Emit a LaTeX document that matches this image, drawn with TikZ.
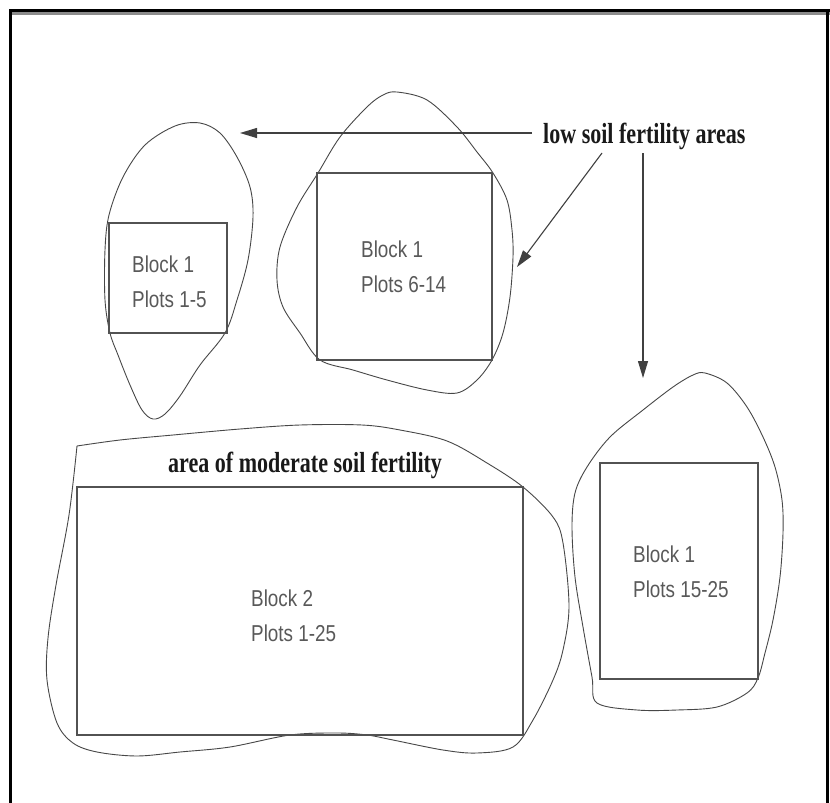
\documentclass[tikz,border=0pt]{standalone}
\usepackage{fontspec}
\setmainfont{Liberation Serif}
\newfontfamily\labfont[FakeStretch=0.76]{Liberation Serif}
\newfontfamily\blkfont[FakeStretch=0.82]{Liberation Sans}
\usetikzlibrary{arrows.meta}
\begin{document}
\begin{tikzpicture}[x=1pt,y=-1pt,
  blob/.style={draw=black!72,line width=0.9pt},
  plotbox/.style={draw=black!68,line width=1.4pt},
  lbl/.style={font=\labfont\bfseries\fontsize{29}{32}\selectfont, inner sep=0pt, text=black!90},
  blk/.style={font=\blkfont\fontsize{23}{35}\selectfont, inner sep=0pt, text=black!65, align=left, anchor=north west},
  arr/.style={draw=black!75,line width=1.1pt,-{Triangle[length=17pt,width=10pt]}}]
\fill[white] (0,0) rectangle (830,803);
\useasboundingbox (0,0) rectangle (830,803);
% frame
\fill[black] (9,9) rectangle (830,12);
\fill[black!45] (12,12) rectangle (830,15);
\fill[black] (9,9) rectangle (12,803);
\fill[black] (826,9) rectangle (829,803);
% left blob
\draw[blob] plot[smooth cycle, tension=0.55] coordinates {(200,123) (220,133) (237,157) (250,187) (253,217) (248,260) (237,300) (225,333) (200,365) (180,396) (165,414) (153,419) (142,410) (130,385) (118,355) (110,333) (105,300) (105,250) (109,215) (123,177) (145,145) (175,126)};
\draw[plotbox] (109,223) rectangle (227,333);
% middle blob
\draw[blob] plot[smooth cycle, tension=0.55] coordinates {(397,92) (427,100) (457,127) (477,152) (493,173) (507,200) (512,230) (513,257) (510,297) (503,333) (492,360) (477,380) (457,393) (427,390) (387,380) (353,370) (320,360) (300,333) (283,307) (277,280) (280,247) (297,207) (318,173) (340,137) (367,107) (383,95)};
\draw[plotbox] (317,173) rectangle (492,360);
% right blob
\draw[blob] plot[smooth cycle, tension=0.55] coordinates {(705,373) (727,383) (747,407) (763,437) (775,467) (782,500) (783,533) (780,577) (773,620) (765,653) (758,678) (747,693) (717,707) (677,710) (637,710) (597,703) (592,677) (583,627) (575,577) (572,527) (575,493) (587,467) (610,437) (643,410) (673,387) (693,375)};
\draw[plotbox] (600,463) rectangle (758,679);
% big blob
\draw[blob] plot[smooth, tension=0.55] coordinates {(77,446) (120,440) (173,435) (240,429) (300,425) (362,425) (400,430) (447,441) (487,463) (523,487) (553,517) (563,543) (569,606) (563,650) (553,680) (533,720) (513,747) (477,753) (443,750) (393,740) (367,735) (337,733) (290,735) (230,747) (180,752) (137,756) (97,752) (73,743) (57,723) (47,680) (48,638) (56,585) (69,515) (77,446)};
\draw[plotbox] (77,487) rectangle (523,735);
% labels
\node[lbl, anchor=base west] (low) at (543,143) {low soil fertility areas};
\node[lbl, anchor=base west] (mod) at (168,472) {area of moderate soil fertility};
\node[blk] (ta) at (132,255.5) {Block 1\\Plots 1-5};
\node[blk] (tb) at (361,240.5) {Block 1\\Plots 6-14};
\node[blk] (tc) at (633,545.5) {Block 1\\Plots 15-25};
\node[blk] (td) at (251,589.5) {Block 2\\Plots 1-25};
% arrows
\coordinate (h0) at (532,133); \coordinate (h1) at (240,133);
\coordinate (d0) at (602,153); \coordinate (d1) at (517,267);
\coordinate (v0) at (643,153); \coordinate (v1) at (643,378);
\draw[arr] (h0) -- (h1);
\draw[arr] (d0) -- (d1);
\draw[arr] (v0) -- (v1);
\end{tikzpicture}
\end{document}
